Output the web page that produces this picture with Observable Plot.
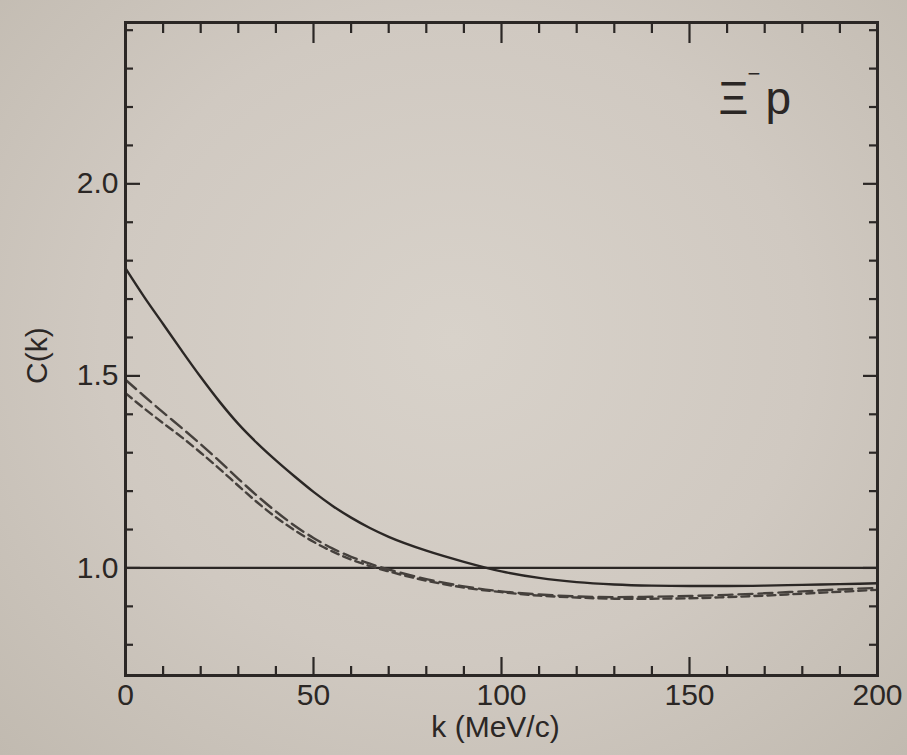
<!DOCTYPE html>
<html>
<head>
<meta charset="utf-8">
<script src="https://cdn.jsdelivr.net/npm/d3@7"></script>
<script src="https://cdn.jsdelivr.net/npm/@observablehq/plot@0.6"></script>
<style>
  html, body { margin: 0; padding: 0; }
  body {
    width: 907px; height: 755px; overflow: hidden;
    background: radial-gradient(ellipse at 50% 45%, #d8d2ca 0%, #d0c9c1 55%, #c1bab0 100%);
  }
</style>
</head>
<body>
<div id="chart"></div>
<script>
// Correlation function C(k) for Xi^- p pairs versus relative momentum k (MeV/c)
const kValues = [0, 5, 10, 15, 20, 25, 30, 35, 40, 45, 50, 55, 60, 65, 70, 80, 90, 100, 110, 120, 130, 140, 150, 160, 170, 180, 190, 200];

// solid curve
const cSolid = [1.78, 1.705, 1.635, 1.565, 1.497, 1.433, 1.375, 1.325, 1.28, 1.238, 1.198, 1.162, 1.131, 1.104, 1.081, 1.045, 1.016, 0.991, 0.974, 0.963, 0.957, 0.954, 0.953, 0.953, 0.954, 0.956, 0.958, 0.96];
// long-dashed curve
const cDashA = [1.49, 1.447, 1.405, 1.364, 1.322, 1.278, 1.232, 1.188, 1.147, 1.11, 1.078, 1.051, 1.029, 1.011, 0.996, 0.971, 0.952, 0.939, 0.931, 0.926, 0.924, 0.925, 0.927, 0.93, 0.934, 0.939, 0.944, 0.948];
// short-dashed curve
const cDashB = [1.455, 1.415, 1.377, 1.34, 1.30, 1.258, 1.214, 1.171, 1.132, 1.098, 1.068, 1.043, 1.022, 1.005, 0.991, 0.967, 0.949, 0.937, 0.928, 0.923, 0.92, 0.92, 0.921, 0.924, 0.928, 0.933, 0.938, 0.943];

const xTickLabels = [0, 50, 100, 150, 200];
const yTickLabels = [1.0, 1.5, 2.0];
const xTitle = "k (MeV/c)";
const yTitle = "C(k)";
// pair label: base symbol, superscript charge, partner
const pairSymbol = "\u039E";
const pairCharge = "\u2212";
const pairPartner = "p";

const rows = (ys) => kValues.map((k, i) => ({k, C: ys[i]}));

const W = 907, H = 755;
const M = {top: 22, right: 30, bottom: 80, left: 125};
const frameW = W - M.left - M.right;
const frameH = H - M.top - M.bottom;
const ink = "#2b2725";
const font = "'Liberation Sans', Arial, sans-serif";

const xMinor = d3.range(10, 200, 10).filter(v => v % 50 !== 0);
const xMajor = [50, 100, 150];
const yAll = d3.range(8, 25).map(v => v / 10);
const yMajor = yAll.filter(v => Math.abs(v * 2 - Math.round(v * 2)) < 1e-9);
const yMinor = yAll.filter(v => !yMajor.includes(v));

const chart = Plot.plot({
  width: W,
  height: H,
  marginTop: M.top,
  marginRight: M.right,
  marginBottom: M.bottom,
  marginLeft: M.left,
  style: {background: "transparent", fontFamily: font, color: ink},
  x: {domain: [0, 200]},
  y: {domain: [0.72, 2.42]},
  marks: [
    // inward ticks on all four sides
    Plot.tickX(xMinor, {x: d => d, stroke: ink, strokeWidth: 2.2, insetTop: frameH - 9}),
    Plot.tickX(xMajor, {x: d => d, stroke: ink, strokeWidth: 2.2, insetTop: frameH - 18}),
    Plot.tickX(xMinor, {x: d => d, stroke: ink, strokeWidth: 2.2, insetBottom: frameH - 11}),
    Plot.tickX(xMajor, {x: d => d, stroke: ink, strokeWidth: 2.2, insetBottom: frameH - 21}),
    Plot.tickY(yMinor, {y: d => d, stroke: ink, strokeWidth: 2.2, insetRight: frameW - 8}),
    Plot.tickY(yMajor, {y: d => d, stroke: ink, strokeWidth: 2.2, insetRight: frameW - 15}),
    Plot.tickY(yMinor, {y: d => d, stroke: ink, strokeWidth: 2.2, insetLeft: frameW - 8}),
    Plot.tickY(yMajor, {y: d => d, stroke: ink, strokeWidth: 2.2, insetLeft: frameW - 14}),

    // reference line C = 1
    Plot.ruleY([1], {stroke: ink, strokeWidth: 2.2}),

    // curves
    Plot.line(rows(cDashB), {x: "k", y: "C", stroke: "#45403c", strokeWidth: 2.4, strokeDasharray: "8,5", curve: "monotone-x"}),
    Plot.line(rows(cDashA), {x: "k", y: "C", stroke: "#45403c", strokeWidth: 2.4, strokeDasharray: "14,6", curve: "monotone-x"}),
    Plot.line(rows(cSolid), {x: "k", y: "C", stroke: ink, strokeWidth: 2.4, curve: "monotone-x"}),

    Plot.frame({stroke: ink, strokeWidth: 3}),

    // tick labels
    Plot.axisX({ticks: xTickLabels, tickSize: 0, tickPadding: 8, fontSize: 30, label: null, tickFormat: d3.format("d")}),
    Plot.axisY({ticks: yTickLabels, tickSize: 0, tickPadding: 7, fontSize: 30, label: null, tickFormat: d3.format(".1f")}),

    // axis titles
    Plot.text([xTitle], {frameAnchor: "bottom", text: d => d, dx: -6, dy: 61, fontSize: 30, fill: ink}),
    Plot.text([yTitle], {frameAnchor: "left", text: d => d, rotate: -90, dx: -88, dy: 35, fontSize: 30, fill: ink}),

    // system label
    Plot.text([pairSymbol], {frameAnchor: "top-right", text: d => d, textAnchor: "start", lineAnchor: "bottom", dx: -159, dy: 91, fontSize: 46, fill: ink}),
    Plot.text([pairCharge], {frameAnchor: "top-right", text: d => d, textAnchor: "start", lineAnchor: "bottom", dx: -130, dy: 58, fontSize: 22, fill: ink}),
    Plot.text([pairPartner], {frameAnchor: "top-right", text: d => d, textAnchor: "start", lineAnchor: "bottom", dx: -112, dy: 91, fontSize: 46, fill: ink})
  ]
});

document.getElementById("chart").appendChild(chart);
</script>
</body>
</html>
